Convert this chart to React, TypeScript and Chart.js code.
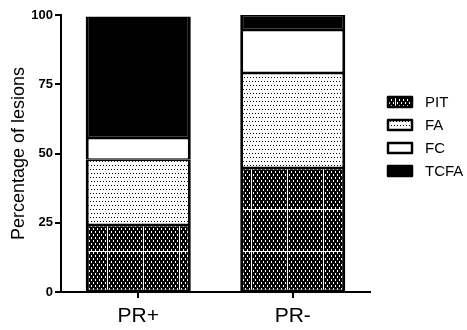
import React, { useEffect, useRef } from 'react';
import { Chart, registerables } from 'chart.js';

Chart.register(...registerables);

const categories = ['PR+', 'PR-'];
const seriesNames = ['PIT', 'FA', 'FC', 'TCFA'];
const pitValues = [24.2, 44.8];
const faValues = [23.5, 34.3];
const fcValues = [7.9, 15.5];
const tcfaValues = [43.9, 5.4];
const yTickValues = [0, 25, 50, 75, 100];
const yTitle = 'Percentage of lesions';

const FONT = "'Liberation Sans', Arial, sans-serif";

function makePitPattern(ctx: CanvasRenderingContext2D): CanvasPattern | string {
  const t = document.createElement('canvas');
  t.width = 36;
  t.height = 42;
  const c = t.getContext('2d');
  if (!c) return '#000';
  c.fillStyle = '#000';
  c.fillRect(0, 0, 36, 42);
  c.fillStyle = '#fff';
  for (let x = 0; x < 36; x += 4) {
    for (let y = 0; y < 42; y += 6) {
      c.fillRect(x + 1, y, 1, 2);
      c.fillRect(x + 3, y + 3, 1, 2);
    }
  }
  c.fillRect(0, 41, 36, 1);
  c.fillRect(35, 0, 1, 42);
  return ctx.createPattern(t, 'repeat') || '#000';
}

function makeFaPattern(ctx: CanvasRenderingContext2D): CanvasPattern | string {
  const t = document.createElement('canvas');
  t.width = 6;
  t.height = 8;
  const c = t.getContext('2d');
  if (!c) return '#fff';
  c.fillStyle = '#fff';
  c.fillRect(0, 0, 6, 8);
  c.fillStyle = '#000';
  c.fillRect(0, 1, 1, 1);
  c.fillRect(3, 1, 1, 1);
  c.fillRect(1, 5, 1, 1);
  c.fillRect(4, 5, 1, 1);
  return ctx.createPattern(t, 'repeat') || '#fff';
}

const legendPlugin = {
  id: 'sideLegend',
  afterDraw(chart: any) {
    const ctx: CanvasRenderingContext2D = chart.ctx;
    const boxX = 388;
    const boxW = 24;
    const boxH = 10;
    const firstY = 102;
    const step = 23;
    ctx.save();
    chart.data.datasets.forEach((ds: any, i: number) => {
      const cy = firstY + i * step;
      ctx.fillStyle = ds.backgroundColor;
      ctx.fillRect(boxX, cy - boxH / 2, boxW, boxH);
      ctx.lineWidth = 2.5;
      ctx.strokeStyle = '#000';
      ctx.lineJoin = 'round';
      ctx.strokeRect(boxX, cy - boxH / 2, boxW, boxH);
      ctx.fillStyle = '#000';
      ctx.font = `15px ${FONT}`;
      ctx.textBaseline = 'middle';
      ctx.textAlign = 'left';
      ctx.fillText(ds.label, 425, cy + 1);
    });
    ctx.restore();
  },
};

export default function App() {
  const ref = useRef<HTMLCanvasElement | null>(null);

  useEffect(() => {
    document.body.style.margin = '0';
    const canvas = ref.current;
    if (!canvas) return;
    const ctx = canvas.getContext('2d');
    if (!ctx) return;
    const pit = makePitPattern(ctx);
    const fa = makeFaPattern(ctx);
    const fills = [pit, fa, '#ffffff', '#000000'];
    const values = [pitValues, faValues, fcValues, tcfaValues];

    const chart = new Chart(ctx, {
      type: 'bar',
      data: {
        labels: categories,
        datasets: seriesNames.map((name, i) => ({
          label: name,
          data: values[i],
          backgroundColor: fills[i] as any,
          borderColor: '#000',
          borderWidth: { top: 1.5, bottom: 1.5, left: 3, right: 3 },
          borderSkipped: false,
          categoryPercentage: 1,
          barPercentage: 0.68,
        })),
      },
      options: {
        animation: false,
        responsive: false,
        devicePixelRatio: 1,
        layout: { padding: { top: 15, right: 97, bottom: 0, left: 0 } },
        plugins: {
          legend: { display: false },
          tooltip: { enabled: false },
        },
        scales: {
          x: {
            stacked: true,
            afterFit: (scale: any) => {
              scale.height = 38;
            },
            border: { display: true, color: '#000', width: 2 },
            grid: {
              display: true,
              offset: false,
              drawOnChartArea: false,
              drawTicks: true,
              tickLength: 6,
              color: '#000',
              lineWidth: 2,
            },
            ticks: {
              color: '#000',
              padding: 6,
              font: { family: FONT, size: 21 },
            },
          },
          y: {
            stacked: true,
            min: 0,
            max: 100,
            afterFit: (scale: any) => {
              scale.width = 61;
            },
            afterBuildTicks: (scale: any) => {
              scale.ticks = yTickValues.map((v) => ({ value: v }));
            },
            border: { display: true, color: '#000', width: 2 },
            grid: {
              display: true,
              drawOnChartArea: false,
              drawTicks: true,
              tickLength: 6,
              color: '#000',
              lineWidth: 2,
            },
            ticks: {
              color: '#000',
              padding: 2,
              font: { family: FONT, size: 13, weight: 'bold' },
            },
            title: {
              display: true,
              text: yTitle,
              color: '#000',
              font: { family: FONT, size: 18 },
              padding: { top: 8, bottom: 0 },
            },
          },
        },
      },
      plugins: [legendPlugin],
    });

    return () => {
      chart.destroy();
    };
  }, []);

  return <canvas ref={ref} width={467} height={330} style={{ display: 'block' }} />;
}
